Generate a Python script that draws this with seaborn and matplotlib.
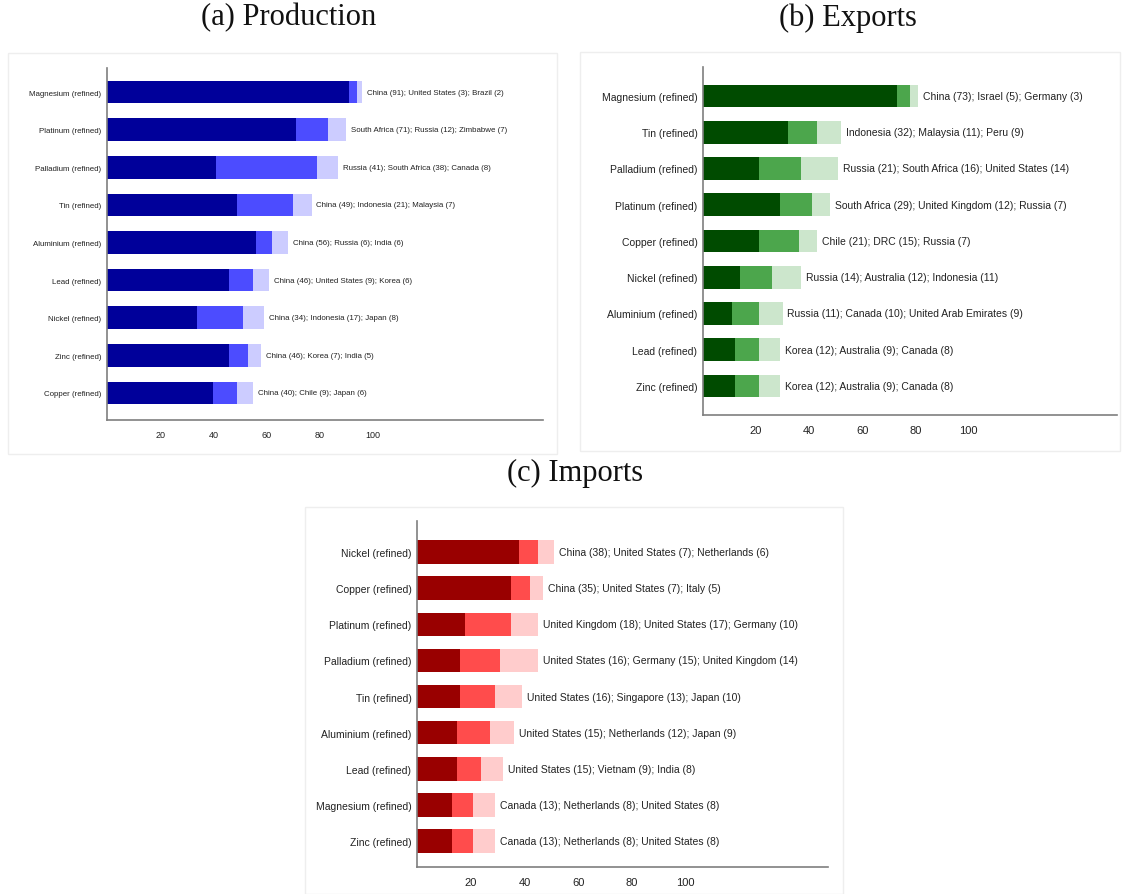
import numpy as np
import pandas as pd
import seaborn as sns
import matplotlib.pyplot as plt
from matplotlib.patches import Rectangle

# (a) Production - top 3 countries' shares (%)
prod_metals = ["Magnesium (refined)", "Platinum (refined)", "Palladium (refined)",
               "Tin (refined)", "Aluminium (refined)", "Lead (refined)",
               "Nickel (refined)", "Zinc (refined)", "Copper (refined)"]
prod_countries = [("China", "United States", "Brazil"),
                  ("South Africa", "Russia", "Zimbabwe"),
                  ("Russia", "South Africa", "Canada"),
                  ("China", "Indonesia", "Malaysia"),
                  ("China", "Russia", "India"),
                  ("China", "United States", "Korea"),
                  ("China", "Indonesia", "Japan"),
                  ("China", "Korea", "India"),
                  ("China", "Chile", "Japan")]
prod_first = [91, 71, 41, 49, 56, 46, 34, 46, 40]
prod_second = [3, 12, 38, 21, 6, 9, 17, 7, 9]
prod_third = [2, 7, 8, 7, 6, 6, 8, 5, 6]

# (b) Exports
exp_metals = ["Magnesium (refined)", "Tin (refined)", "Palladium (refined)",
              "Platinum (refined)", "Copper (refined)", "Nickel (refined)",
              "Aluminium (refined)", "Lead (refined)", "Zinc (refined)"]
exp_countries = [("China", "Israel", "Germany"),
                 ("Indonesia", "Malaysia", "Peru"),
                 ("Russia", "South Africa", "United States"),
                 ("South Africa", "United Kingdom", "Russia"),
                 ("Chile", "DRC", "Russia"),
                 ("Russia", "Australia", "Indonesia"),
                 ("Russia", "Canada", "United Arab Emirates"),
                 ("Korea", "Australia", "Canada"),
                 ("Korea", "Australia", "Canada")]
exp_first = [73, 32, 21, 29, 21, 14, 11, 12, 12]
exp_second = [5, 11, 16, 12, 15, 12, 10, 9, 9]
exp_third = [3, 9, 14, 7, 7, 11, 9, 8, 8]

# (c) Imports
imp_metals = ["Nickel (refined)", "Copper (refined)", "Platinum (refined)",
              "Palladium (refined)", "Tin (refined)", "Aluminium (refined)",
              "Lead (refined)", "Magnesium (refined)", "Zinc (refined)"]
imp_countries = [("China", "United States", "Netherlands"),
                 ("China", "United States", "Italy"),
                 ("United Kingdom", "United States", "Germany"),
                 ("United States", "Germany", "United Kingdom"),
                 ("United States", "Singapore", "Japan"),
                 ("United States", "Netherlands", "Japan"),
                 ("United States", "Vietnam", "India"),
                 ("Canada", "Netherlands", "United States"),
                 ("Canada", "Netherlands", "United States")]
imp_first = [38, 35, 18, 16, 16, 15, 15, 13, 13]
imp_second = [7, 7, 17, 15, 13, 12, 9, 8, 8]
imp_third = [6, 5, 10, 14, 10, 9, 8, 8, 8]

blues = ["#00009a", "#4c4cff", "#ccccff"]
greens = ["#004b00", "#4ca64c", "#cce6cc"]
reds = ["#990000", "#ff4c4c", "#ffcccc"]

sns.set_theme(style="white")
plt.rcParams['font.family'] = ['Liberation Sans', 'DejaVu Sans']

W, H = 1122, 895
fig = plt.figure(figsize=(W / 100, H / 100), dpi=100)


def box(l, t, r, b):
    return [l / W, 1 - b / H, (r - l) / W, (b - t) / H]


def panel(rect, metals, countries, first, second, third, colors, xmax, ylim,
          fs, bw, tfs):
    ax = fig.add_axes(rect)
    df = pd.DataFrame({"metal": metals, "s1": first, "s2": second, "s3": third})
    df["c2"] = df["s1"] + df["s2"]
    df["c3"] = df["c2"] + df["s3"]
    for col, c in zip(["c3", "c2", "s1"], colors[::-1]):
        sns.barplot(data=df, x=col, y="metal", color=c, saturation=1,
                    width=bw, orient="h", ax=ax, linewidth=0)
    for i, (cs, a, b, c) in enumerate(zip(countries, first, second, third)):
        lab = f"{cs[0]} ({a}); {cs[1]} ({b}); {cs[2]} ({c})"
        ax.text(a + b + c + 1.8, i, lab, va="center", ha="left",
                fontsize=fs, color="#222222")
    ax.set_xlim(0, xmax)
    ax.set_ylim(*ylim)
    ax.set_xticks([20, 40, 60, 80, 100])
    ax.set_xlabel("")
    ax.set_ylabel("")
    for s in ["top", "right"]:
        ax.spines[s].set_visible(False)
    for s in ["left", "bottom"]:
        ax.spines[s].set_color("#7f7f7f")
        ax.spines[s].set_linewidth(1.2)
    ax.tick_params(axis="x", length=3, width=0.8, color="#7f7f7f",
                   labelsize=tfs, labelcolor="#222222", pad=4)
    ax.tick_params(axis="y", length=0, labelsize=fs, labelcolor="#222222", pad=4)
    return ax


# light frames around each panel
for l, t, r, b in [(8, 54, 557, 455), (580, 53, 1120, 452), (305, 508, 843, 895)]:
    fig.add_artist(Rectangle((l / W, 1 - b / H), (r - l) / W, (b - t) / H,
                             transform=fig.transFigure, fill=False,
                             edgecolor="#eeeeee", linewidth=1))

panel(box(107, 69, 543, 421), prod_metals, prod_countries, prod_first,
      prod_second, prod_third, blues, 164, (8.72, -0.64), 5.7, 0.6, 6.5)
panel(box(703, 68, 1117, 416), exp_metals, exp_countries, exp_first,
      exp_second, exp_third, greens, 156, (8.8, -0.8), 7.5, 0.63, 8)
panel(box(417, 522, 828, 868), imp_metals, imp_countries, imp_first,
      imp_second, imp_third, reds, 153, (8.72, -0.86), 7.5, 0.65, 8)

tfont = dict(family=["Liberation Serif", "DejaVu Serif"], fontsize=22,
             ha="center", va="center", color="#111111")
fig.text(289 / W, 1 - 18 / H, "(a) Production", **tfont)
fig.text(848 / W, 1 - 18 / H, "(b) Exports", **tfont)
fig.text(575 / W, 1 - 473 / H, "(c) Imports", **tfont)

fig.savefig("out.png", dpi=100)
